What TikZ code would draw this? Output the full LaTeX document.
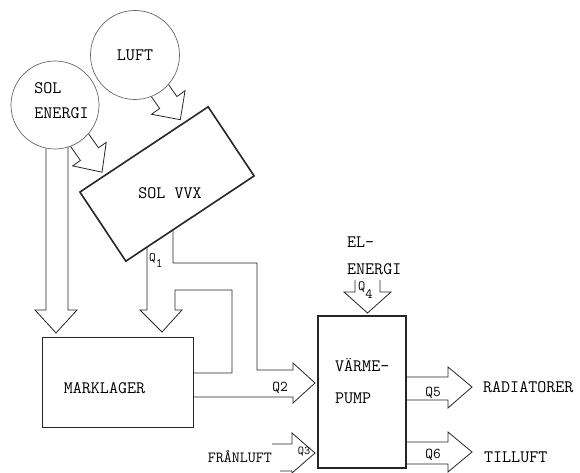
\documentclass[tikz,border=0pt]{standalone}
\usepackage{tikz}
\usetikzlibrary{backgrounds,calc}
\definecolor{ink}{RGB}{38,38,38}

\begin{document}
\begin{tikzpicture}[x=1pt, y=1pt,
  font=\fontsize{17.5}{25}\selectfont\ttfamily,
  src/.style={circle, draw=ink!70, fill=white, line width=0.7pt, minimum size=88pt, inner sep=0pt},
  box/.style={rectangle, draw=ink, fill=white, line width=0.9pt, inner sep=0pt},
  fat/.style={draw=ink, line width=0.8pt, line join=miter},
  qlbl/.style={font=\fontsize{15}{15}\selectfont\ttfamily, inner sep=0pt}]
  \useasboundingbox (0,0) rectangle (580,473);
  % sources
  \node[src, minimum size=89pt] (luft) at (135,418) {LUFT};
  \node[src] (solenergi) at (55,368) {};
  \node[align=left, inner sep=0pt] (soltext) at (61.5,372.5) {SOL\\ENERGI};
  % solar heat exchanger (tilted box, upright text)
  \node[box, line width=1.6pt, rotate=33.6, minimum width=154pt, minimum height=83pt] (solvvx) at (167,289) {};
  \node (vvxtext) at (170,280) {SOL VVX};
  % ground store and heat pump
  \node[box, minimum width=151pt, minimum height=90pt] (marklager) at (117.5,91) {};
  \node (marktext) at (104.5,85) {MARKLAGER};
  \node[box, line width=1.2pt, minimum width=88pt, minimum height=152pt] (pump) at (362,81) {};
  \node[align=left, anchor=west, inner sep=0pt, font=\fontsize{17.5}{32}\selectfont\ttfamily] (pumptext) at (335,92) {VÄRME-\\PUMP};
  % flows, behind the boxes
  \begin{scope}[on background layer]
    \draw[fat, shift={(luft.center)}, rotate=-55]
      (0,-10.5) -- (58,-10.5) -- (58,-20.5) -- (79,0) -- (58,20.5) -- (58,10.5) -- (0,10.5) -- cycle;
    \draw[fat, shift={(solenergi.center)}, rotate=-55]
      (0,-11) -- (60,-11) -- (60,-20.5) -- (82,0) -- (60,20.5) -- (60,11) -- (0,11) -- cycle;
    \draw[fat] ($(solenergi.center)+(-9,0)$) -- ++(0,-205) -- ++(-11,0) -- ++(21,-23)
      -- ++(21,23) -- ++(-9,0) -- ++(0,205) -- cycle;
    % Q1 down into the store, return loop from the store
    \draw[fat] (147,235) -- (147,163) -- (140,163) -- (162,141) -- (182,163) -- (175,163)
      -- (175,183) -- (232,183) -- (232,100) -- (marklager.east |- 0,100);
    % Q2 into the heat pump
    \draw[fat] (173,250) -- (173,210) -- (257,210) -- (257,103) -- (293,103) -- (293,110)
      -- (315,90) -- (293,70) -- (293,76) -- (marklager.east |- 0,76);
    % Q3, Q4 in; Q5, Q6 out
    \draw[fat] (272,29) -- (292,29) -- (292,40) -- (315,20) -- (292,0) -- (292,2) -- (280,2);
    \draw[fat] (355,193) -- (355,181) -- (344,181) -- (367.5,160) -- (391,181) -- (380,181) -- (380,193);
    \draw[fat] (pump.east |- 0,96) -- (448,96) -- (448,106) -- (472,86) -- (448,65) -- (448,73) -- (pump.east |- 0,73);
    \draw[fat] (pump.east |- 0,31) -- (448,31) -- (448,41) -- (472,21) -- (448,1) -- (448,9) -- (pump.east |- 0,9);
  \end{scope}
  % flow labels
  \node[qlbl, anchor=base west, font=\fontsize{13}{13}\selectfont\ttfamily] (q1) at (149,211) {Q\raisebox{-6pt}{1}};
  \node[qlbl] (q2) at (280,85) {Q2};
  \node[qlbl, font=\fontsize{12}{12}\selectfont\ttfamily] (q3) at (304,21) {Q3};
  \node[qlbl, anchor=base west, font=\fontsize{14}{14}\selectfont\ttfamily] (q4) at (358,182) {Q\raisebox{-8pt}{4}};
  \node[qlbl] (q5) at (433,80) {Q5};
  \node[qlbl] (q6) at (433,18) {Q6};
  \node[anchor=base east, inner sep=0pt, font=\fontsize{15.5}{15.5}\selectfont\ttfamily] (franluft) at (272,10) {FRÅNLUFT};
  \node[anchor=west, inner sep=0pt] (radiatorer) at (483,86) {RADIATORER};
  \node[anchor=west, inner sep=0pt] (tilluft) at (484,16) {TILLUFT};
  \node[anchor=west, align=left, inner sep=0pt, font=\fontsize{17.5}{27}\selectfont\ttfamily] (elenergi) at (347,217) {EL-\\ENERGI};
\end{tikzpicture}
\end{document}
